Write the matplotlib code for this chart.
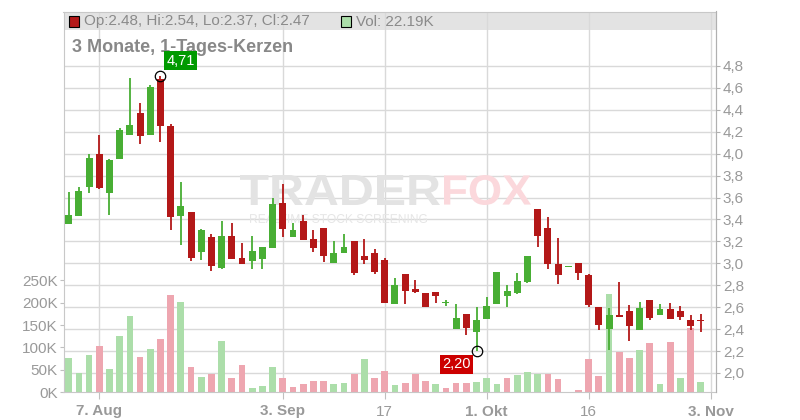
import numpy as np
import matplotlib
matplotlib.use("Agg")
import matplotlib.pyplot as plt
import matplotlib.transforms as mtransforms
from matplotlib.patches import Rectangle, PathPatch
from matplotlib.textpath import TextPath
from matplotlib.font_manager import FontProperties

plt.rcParams['font.family'] = ['Liberation Sans', 'DejaVu Sans']

# Tageskerzen (Index = Handelstag)
opens = [3.36, 3.43, 3.70, 4.00, 3.64, 3.95, 4.17, 4.37, 4.17, 4.68,
         4.25, 3.43, 3.47, 3.10, 3.24, 2.96, 3.25, 3.05, 3.02, 3.04,
         3.14, 3.55, 3.24, 3.39, 3.22, 3.32, 3.00, 3.09, 3.20, 3.07,
         3.09, 3.03, 2.63, 2.90, 2.77, 2.73, 2.74, 2.64, 2.40, 2.54,
         2.37, 2.49, 2.63, 2.70, 2.73, 2.83, 3.50, 3.32, 2.99, 2.97,
         3.00, 2.89, 2.60, 2.40, 2.53, 2.57, 2.39, 2.67, 2.53, 2.58,
         2.57, 2.48, 2.48]
highs = [3.65, 3.70, 4.00, 4.17, 3.95, 4.23, 4.69, 4.46, 4.63, 4.71,
         4.27, 3.74, 3.47, 3.31, 3.27, 3.39, 3.37, 3.19, 3.25, 3.15,
         3.60, 3.72, 3.37, 3.44, 3.30, 3.32, 3.20, 3.27, 3.20, 3.22,
         3.13, 3.05, 2.87, 2.90, 2.85, 2.73, 2.74, 2.67, 2.63, 2.54,
         2.60, 2.69, 2.92, 2.80, 2.91, 3.07, 3.50, 3.42, 3.23, 2.97,
         3.00, 2.90, 2.60, 2.59, 2.83, 2.62, 2.65, 2.67, 2.63, 2.64,
         2.61, 2.53, 2.54]
lows = [3.36, 3.43, 3.64, 3.68, 3.44, 3.95, 4.17, 4.09, 4.17, 4.11,
        3.30, 3.17, 3.02, 3.03, 2.93, 2.95, 3.04, 2.99, 2.95, 2.95,
        3.14, 3.24, 3.24, 3.21, 3.10, 3.01, 3.00, 3.09, 2.89, 2.99,
        2.90, 2.64, 2.63, 2.63, 2.73, 2.60, 2.64, 2.61, 2.40, 2.35,
        2.20, 2.49, 2.63, 2.60, 2.72, 2.82, 3.15, 2.95, 2.81, 2.97,
        2.85, 2.60, 2.39, 2.21, 2.51, 2.29, 2.39, 2.48, 2.53, 2.49,
        2.48, 2.39, 2.37]
closes = [3.44, 3.66, 3.96, 3.69, 3.94, 4.22, 4.26, 4.16, 4.61, 4.25,
          3.42, 3.52, 3.05, 3.30, 2.98, 3.25, 3.04, 2.99, 3.11, 3.15,
          3.54, 3.31, 3.30, 3.21, 3.14, 3.07, 3.09, 3.15, 2.91, 3.03,
          2.92, 2.64, 2.80, 2.75, 2.74, 2.60, 2.70, 2.64, 2.50, 2.41,
          2.48, 2.61, 2.92, 2.75, 2.84, 3.07, 3.25, 2.99, 2.89, 2.97,
          2.91, 2.62, 2.44, 2.53, 2.51, 2.43, 2.59, 2.50, 2.58, 2.49,
          2.51, 2.43, 2.47]
# Volumen in Tausend
volumes = [76, 43, 83, 103, 52, 126, 170, 78, 96, 119,
           217, 202, 56, 34, 40, 114, 31, 60, 9, 13,
           56, 31, 11, 18, 25, 25, 18, 20, 40, 74,
           31, 47, 16, 20, 41, 25, 18, 9, 20, 20,
           22, 31, 18, 31, 38, 45, 40, 40, 29, 0,
           4.5, 74, 36, 220, 90, 76, 94, 110, 18, 112,
           31, 143, 22.19]

date_ticks = [3, 21, 31, 41, 51, 63]
date_labels = ['7. Aug', '3. Sep', '17', '1. Okt', '16', '3. Nov']
date_bold = [True, True, False, True, False, True]
price_ticks = [2.0, 2.2, 2.4, 2.6, 2.8, 3.0, 3.2, 3.4, 3.6, 3.8, 4.0, 4.2, 4.4, 4.6, 4.8]
vol_ticks = [0, 50, 100, 150, 200, 250]

GREEN = '#48ae34'
RED = '#b31818'
VGREEN = '#acdeaa'
VRED = '#eea6b0'
GRID = '#d9d9d9'
TXT = '#999999'

o = np.array(opens)
h = np.array(highs)
l = np.array(lows)
c = np.array(closes)
v = np.array(volumes) * 1000
x = np.arange(len(o))

fig = plt.figure(figsize=(8, 4.2), dpi=100)
ax_v = fig.add_axes([63.5 / 800, 28 / 420, 652.5 / 800, 380.5 / 420])
ax = ax_v.twinx()

# Volumen (unten, links)
prev = np.concatenate([[c[0] - 1], c[:-1]])
vcol = [VGREEN if ci >= pi else VRED for ci, pi in zip(c, prev)]
ax_v.bar(x, v, width=0.66, color=vcol, zorder=2)
ax_v.set_ylim(0, 853000)
ax_v.set_yticks([t * 1000 for t in vol_ticks])
ax_v.set_yticklabels([f'{t}K' for t in vol_ticks])
ax_v.set_xlim(-0.51, 63.49)
ax_v.set_xticks(date_ticks)
ax_v.set_xticklabels(date_labels)
for lab, b in zip(ax_v.get_xticklabels(), date_bold):
    lab.set_fontweight('bold' if b else 'normal')
ax_v.set_axisbelow(True)
ax_v.grid(axis='x', color=GRID, lw=1)
trans = mtransforms.blended_transform_factory(ax_v.transAxes, ax.transData)
ax_v.hlines(price_ticks, 0, 1, transform=trans, color=GRID, lw=1, zorder=0.6)
ax_v.add_patch(Rectangle((0, (392 - 30) / 380.5), 1, 18.5 / 380.5, transform=ax_v.transAxes,
                         facecolor='#e3e3e3', edgecolor='none', zorder=0.3))
ax_v.tick_params(axis='y', length=3, color='#c0c0c0', labelcolor=TXT, labelsize=11, pad=1)
ax_v.tick_params(axis='x', length=5, color='#c0c0c0', labelcolor=TXT, labelsize=11, pad=4)
for s in ax_v.spines.values():
    s.set_color('#c8c8c8')


# Wasserzeichen, in Pixel-Kästchen gestreckt
def stamp(text, x0, x1, ytop, ybot, color, weight='bold'):
    tp = TextPath((0, 0), text, size=1, prop=FontProperties(family='Liberation Sans', weight=weight))
    bb = tp.get_extents()
    tr = (mtransforms.Affine2D().translate(-bb.x0, -bb.y0)
          .scale((x1 - x0) / bb.width, (ybot - ytop) / bb.height)
          .translate(x0, 420 - ybot))
    ax_v.add_patch(PathPatch(tp, transform=tr, facecolor=color, edgecolor='none', zorder=1))


stamp('TRADER', 240, 440, 175, 205, '#e3e3e3')
stamp('FOX', 444, 531, 175, 205, '#fbd8dc')
stamp('REALTIME STOCK SCREENING', 250, 427, 214, 223, '#e6e6e6', weight='normal')

# Kerzen (oben, rechts)
ccol = [GREEN if ci >= oi else RED for oi, ci in zip(o, c)]
ax.vlines(x, l, h, colors=ccol, lw=1.3, zorder=3)
body_lo = np.minimum(o, c)
body_h = np.maximum(np.abs(c - o), 0.01)
ax.bar(x, body_h, bottom=body_lo, width=0.68, color=ccol, zorder=4)
ax.set_ylim(1.8267, 5.297)
ax.set_yticks(price_ticks)
ax.set_yticklabels([f'{p:.1f}'.replace('.', ',') for p in price_ticks])
ax.tick_params(axis='y', length=3, color='#b0b0b0', labelcolor=TXT, labelsize=11, pad=2)
for k in ['top', 'left', 'bottom']:
    ax.spines[k].set_visible(False)
ax.spines['right'].set_color('#b0b0b0')

# Hoch / Tief
ih = int(np.argmax(h))
il = int(np.argmin(l))
ax.plot([ih, il], [h[ih], l[il]], 'o', mfc='none', mec='black', ms=7.5, mew=0.9, zorder=5)
ax.annotate(f'{h[ih]:.2f}'.replace('.', ','), (ih, h[ih]), xytext=(14.5, 11), textcoords='offset points',
            ha='center', va='center', color='white', fontsize=10.5,
            bbox=dict(boxstyle='square,pad=0.18', fc='#009a00', ec='none'), zorder=6)
ax.annotate(f'{l[il]:.2f}'.replace('.', ','), (il, l[il]), xytext=(-14.2, -9.6), textcoords='offset points',
            ha='center', va='center', color='white', fontsize=10.5,
            bbox=dict(boxstyle='square,pad=0.15', fc='#cc0000', ec='none'), zorder=6)

# Kopfzeile
fig.add_artist(Rectangle((68.5 / 800, 1 - 26.5 / 420), 10 / 800, 10 / 420, transform=fig.transFigure,
                         facecolor=RED, edgecolor='black', lw=0.8))
fig.text(84 / 800, 1 - 21.5 / 420,
         f'Op:{o[-1]:.2f}, Hi:{h[-1]:.2f}, Lo:{l[-1]:.2f}, Cl:{c[-1]:.2f}',
         va='center', ha='left', fontsize=11, color='#8a8a8a')
fig.add_artist(Rectangle((340.5 / 800, 1 - 26.5 / 420), 10 / 800, 10 / 420, transform=fig.transFigure,
                         facecolor=VGREEN, edgecolor='black', lw=0.8))
fig.text(356 / 800, 1 - 21.5 / 420, f'Vol: {volumes[-1]:.2f}K',
         va='center', ha='left', fontsize=11, color='#8a8a8a')
# Titel unter dem Hoch-Label (liegt in der unteren Achse)
ax_v.text(72 / 800, 1 - 47 / 420, '3 Monate, 1-Tages-Kerzen', transform=fig.transFigure,
          va='center', ha='left', fontsize=13, fontweight='bold', color='#888888', zorder=7)

fig.savefig('out.png', dpi=100)
